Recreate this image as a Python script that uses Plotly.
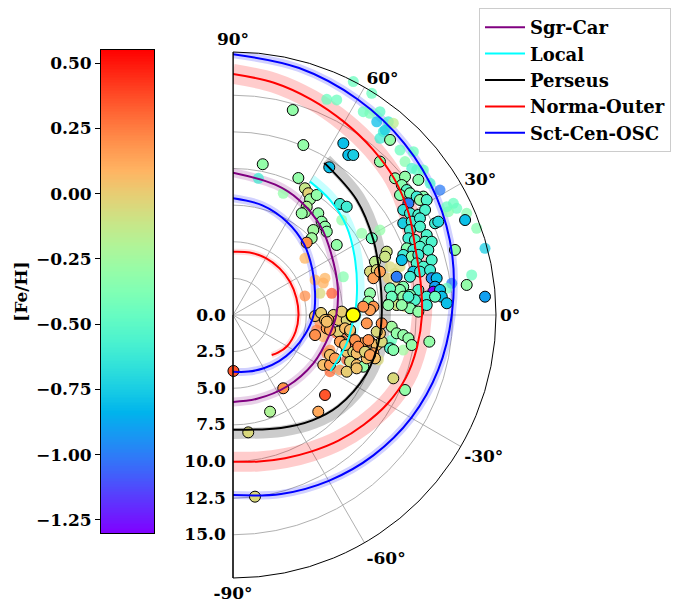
import numpy as np
import plotly.graph_objects as go

# ---------------- data (galactocentric X, Y in kpc; [Fe/H]) ----------------
EDGE_X = [4.08, 4.80, 2.03, 4.46, 4.91, 5.14, 5.26, 5.03, 4.91, 5.82, 6.05, 6.28, 5.48, 6.40, 5.37, 5.03, 7.08, 5.71, 4.69,
          7.53, 7.87, 8.21, 6.57, 7.30, 7.76, 9.47, 9.69, 10.49, 10.38, 9.35, 9.81, 9.58, 10.03, 9.35, 9.24, 10.67,
          9.58, 9.35, 8.89, 11.17,
          10.72, 10.03, 11.06, 11.74, 12.65, 11.52, 11.86, 11.40, 12.08, 12.99, 12.54, 12.76, 13.22, 11.97, 11.62,
          12.08, 12.65, 13.11, 11.62, 12.20, 12.76, 13.79, 14.01, 12.76, 12.08, 13.22, 11.97, 12.42, 13.11, 13.56,
          11.86, 12.31, 12.76, 13.33, 11.62, 12.20, 12.65, 11.52, 13.56, 12.54, 12.99, 12.31, 12.76, 13.45, 12.08,
          13.56, 13.90, 11.17, 11.62, 11.40, 12.65, 13.79, 13.67, 14.13, 14.25, 14.59, 13.22, 13.79, 12.08, 11.62,
          12.42, 12.08, 12.65, 10.72, 10.83, 15.15, 15.95, 17.20, 15.84,
          7.53, 6.85, 7.19, 7.76, 6.51, 6.40, 7.19, 7.65, 7.99, 5.60, 6.62, 9.13, 7.42, 7.76, 8.21, 8.44, 8.79,
          9.35, 9.81, 10.15, 9.58, 10.03, 7.99, 6.16, 6.62, 8.44, 8.89, 7.76, 9.69, 9.13, 10.83, 11.17, 11.62,
          10.72, 10.94, 11.97, 12.20, 13.40, 10.94, 11.74, 3.43, 6.28, 2.53, 5.82, 1.04, 1.50, 0.03, 5.60, 6.01,
          6.28, 7.42, 6.40, 7.99, 8.33, 9.24, 9.81, 10.15, 7.30, 7.65, 6.62, 6.96, 8.55, 9.01, 9.35, 8.44, 10.60,
          11.52, 11.97, 13.22]
EDGE_Y = [13.99, 11.60, 10.29, 9.35, 8.65, 8.31, 7.90, 7.39, 7.01, 6.94, 6.37, 6.03, 5.80, 5.69, 5.24, 4.94, 4.78, 8.19, 6.94,
          11.72, 10.92, 10.92, 10.08, 7.58, 7.39, 5.24, 3.64, 4.32, 3.98, 2.96, 3.07, 2.51, 2.96, 1.48, 0.91, 0.80,
          0.57, 0.34, 0.57, 0.68,
          11.95, 10.47, 9.33, 9.44, 9.22, 8.87, 8.53, 8.19, 8.31, 8.08, 8.08, 7.85, 7.85, 7.62, 7.17,
          6.94, 6.83, 7.17, 6.26, 6.37, 6.60, 6.26, 6.37, 6.03, 5.80, 5.46, 5.24, 5.12, 5.00, 5.00,
          4.55, 4.44, 4.66, 4.44, 4.10, 3.98, 4.10, 3.75, 3.75, 3.53, 3.30, 2.96, 2.96, 3.07, 2.61,
          2.51, 2.51, 2.61, 1.93, 1.71, 1.71, 1.93, 1.59, 1.71, 1.25, 0.80, 1.25, 1.25, 1.37, 1.25,
          1.02, 0.46, 0.23, 1.82, 1.25, 4.44, 2.05, 1.25, 6.48,
          0.12, 0.00, -0.34, -0.34, -0.34, -0.91, -1.14, -0.91, -1.14, -1.37, -1.02, -0.57, -1.82, -2.51, -2.51,
          -2.61, -1.93, -1.82, -2.05, -1.82, -2.61, -1.25, -3.19, -3.41, -3.41, -3.41, -3.53, -3.87, -2.96, -2.96,
          -0.80, -1.25, -1.37, -2.27, -2.39, -1.59, -2.05, -1.82, -4.32, -5.12, -5.00, -5.46, -6.60, -6.60, -8.01,
          -12.40, -3.82, -0.07, 0.14, -0.34, 0.23, -0.46, -1.02, -1.71, -1.71, -1.14, -0.57, -1.82, -2.05, -2.73,
          -2.96, -2.16, -2.51, -2.73, -3.64, 0.68, 0.68, 1.25, 0.68]
EDGE_FEH = [-0.30, -0.30, -0.30, -0.30, -0.12, -0.02, -0.25, -0.20, -0.25, -0.30, -0.30, -0.30, -0.25, -0.30, -0.25, 0.20, -0.30, -0.30, -0.28,
            -0.80, -0.80, -0.75, -0.80, -0.60, -0.60, -0.45, -0.15, -0.10, -0.10, -0.05, -0.05, 0.15, 0.15, -0.30, -0.30, -0.30,
            0.18, 0.15, 0.20, -0.10,
            -0.30, -0.30, -0.30, -0.30, -0.35, -0.35, -0.50, -0.35, -0.40, -0.35, -0.60, -0.30, -0.55, -1.00, -0.65,
            -0.60, -0.55, -0.55, -0.75, -0.60, -0.60, -0.60, -0.70, -0.55, -0.60, -0.55, -0.60, -0.55, -0.50, -0.55,
            -0.35, -0.60, -0.55, -0.55, -0.60, -0.35, -0.60, -0.80, -0.55, -0.55, -0.55, -0.75, -0.60, -0.60, -0.60,
            -0.95, -0.80, -1.00, -0.35, -0.35, -0.55, -0.90, -1.30, -0.80, -0.80, -0.80, -0.60, -0.45, -0.35, -0.30,
            -0.55, -0.35, -0.30, -0.45, -0.45, -0.30, -0.30, -0.90, -0.80,
            -0.03, 0.00, 0.02, -0.05, 0.15, 0.15, -0.02, 0.05, -0.05, 0.20, 0.15, 0.18, -0.03, 0.02, -0.05,
            0.05, 0.15, 0.15, 0.05, -0.05, 0.15, 0.05, -0.05, 0.05, 0.15, 0.05, -0.30, 0.00, 0.05, 0.05,
            -0.25, -0.30, -0.30, -0.55, -0.35, -0.30, -0.30, -0.30, -0.05, -0.30, 0.20, 0.35, -0.20, 0.12, -0.05,
            -0.05, 0.35, 0.05, 0.00, 0.05, 0.00, 0.05, 0.05, 0.18, 0.20, -0.05, 0.20, 0.15, 0.05, 0.05,
            0.15, 0.20, -0.03, 0.15, 0.03, -0.30, -0.30, -0.55, -0.60]

FADE_X = [8.21, 9.35, 6.40, 7.08, 8.89, 9.35, 9.81, 10.26, 10.03, 9.47, 10.03, 10.60, 10.94, 10.38, 11.40, 11.74,
          12.31, 12.20, 12.54, 14.13, 15.04, 15.27, 15.95, 16.63, 17.20, 16.29, 14.93, 14.70, 14.59, 14.59, 10.72,
          11.06, 10.60, 11.17, 11.74, 11.40, 11.17, 11.62, 8.79, 10.03, 7.53, 1.73, 3.43, 7.42, 4.91, 5.60, 6.28,
          6.16, 4.91, 5.94, 6.74, 5.94, 5.71, 6.16, 7.08, 7.65, 8.10, 6.62, 7.76, 6.40, 6.62, 7.30, 10.83, 11.62,
          9.92, 10.72, 12.99, 13.45]
FADE_Y = [15.93, 15.36, 14.72, 14.68, 13.88, 13.77, 13.19, 12.51, 12.06, 15.13, 13.88, 13.19, 13.09, 12.63, 11.26,
          10.47, 11.15, 10.01, 9.90, 8.53, 7.62, 7.28, 6.94, 5.92, 4.55, 2.73, 2.16, 7.05, 7.39, 1.82, 3.30, 2.85,
          2.51, 0.80, 0.57, 3.30, 1.93, 1.48, 5.58, 5.80, 2.61, 9.33, 8.31, 6.48, 3.87, 2.39, 2.51, 2.18, 1.30,
          1.48, 1.48, -0.57, -1.02, -1.48, -1.25, -1.37, -1.93, -2.39, -3.07, -2.61, -3.87, -3.75, -1.71, -2.39,
          -3.07, -2.05, 9.90, 8.99]
FADE_FEH = [-0.45, -0.45, -0.45, -0.45, -0.45, -0.40, -0.80, -0.60, -0.60, -0.45, -0.50, -0.60, -0.15, -0.75, -0.45,
            -0.35, -0.45, -0.55, -0.50, -1.00, -0.45, -0.45, -0.35, -0.35, -0.75, -0.45, -1.00, -0.35, -0.45, -0.45,
            -0.05, -0.05, 0.00, -0.05, -0.05, -0.05, -0.05, -0.05, -0.30, -0.30, -0.35, -0.60, -0.30, -0.30, 0.08,
            0.08, 0.08, 0.10, 0.20, -0.05, 0.33, 0.20, 0.25, 0.10, 0.30, 0.30, 0.38, 0.18, 0.35, 0.20, 0.30, 0.20,
            -0.45, -0.25, -0.05, -0.45, -0.45, -0.55]

SUN_R = [8.2]
SUN_THETA = [0.0]

# spiral arms: azimuth (deg) and radius (kpc)
SGR_THETA = [90, 72, 60, 45, 32, 15, 0, -11, -31, -53, -74, -90]
SGR_R = [9.71, 9.35, 9.05, 8.5, 7.9, 7.4, 7.05, 6.74, 6.4, 6.11, 5.95, 5.93]
LOC_THETA = [60, 50, 38, 24, 7, -2, -14, -30]
LOC_R = [10.51, 10.27, 9.83, 9.13, 8.5, 8.22, 8.0, 7.67]
PER_THETA = [59, 43, 28, 15, 0, -11, -24, -41, -53, -67, -90]
PER_R = [12.11, 11.53, 10.86, 10.37, 10.15, 10.1, 9.95, 9.5, 9.0, 8.37, 7.83]
NOR_OUT_THETA = [90, 80, 70, 60, 50, 40, 30, 20, 10, 0, -10, -20, -30, -40, -50, -60, -70, -80, -90]
NOR_OUT_R = [16.45, 16.1, 15.65, 15.2, 14.8, 14.4, 13.85, 13.25, 13.0, 12.9, 12.75, 12.55, 12.15, 11.65, 11.2,
             10.75, 10.4, 10.15, 10.01]
NOR_IN_THETA = [90, 75, 60, 45, 30, 15, 0, -15, -30, -40, -46]
NOR_IN_R = [4.32, 4.42, 4.49, 4.5, 4.5, 4.48, 4.47, 4.42, 4.26, 4.0, 3.8]
SCT_OUT_THETA = [90, 75, 60, 45, 30, 15, 0, -15, -30, -45, -60, -75, -90]
SCT_OUT_R = [17.8, 17.45, 17.0, 16.55, 16.05, 15.5, 14.93, 14.5, 14.05, 13.55, 13.07, 12.65, 12.29]
SCT_IN_THETA = [90, 75, 60, 45, 30, 15, 0, -15, -30, -45, -60, -75, -90]
SCT_IN_R = [7.97, 7.75, 7.35, 6.85, 6.25, 5.8, 5.5, 5.1, 4.75, 4.45, 4.2, 4.0, 3.87]

FEH_MIN, FEH_MAX = -1.30, 0.55
CB_TICKS = [-1.25, -1.0, -0.75, -0.5, -0.25, 0.0, 0.25, 0.5]
R_TICKS = [0, 2.5, 5, 7.5, 10, 12.5, 15]
T_TICKS = [-90, -60, -30, 0, 30, 60, 90]
RMAX = 17.95

# ---------------- styling helpers ----------------
def rainbow(n=21):
    scale = []
    for x in np.linspace(0, 1, n):
        r = min(1.0, abs(2 * x - 0.5))
        g = np.sin(np.pi * x)
        b = np.cos(np.pi * x / 2)
        scale.append([float(x), f"rgb({int(round(r*255))},{int(round(g*255))},{int(round(b*255))})"])
    return scale

RAINBOW = rainbow()
FONT = dict(family="DejaVu Serif", size=17, color="black", weight="bold")
LEG_FONT = dict(family="DejaVu Serif", size=18, color="black", weight="bold")

def to_polar(xs, ys):
    xs = np.asarray(xs); ys = np.asarray(ys)
    return np.hypot(xs, ys), np.degrees(np.arctan2(ys, xs))

fig = go.Figure()

# bands (uncertainty widths)
bands = [
    (SGR_THETA, SGR_R, "rgba(128,0,128,0.18)", 0.0, 9),
    (LOC_THETA, LOC_R, "rgba(0,255,255,0.22)", 0.25, 8),
    (PER_THETA, PER_R, "rgba(0,0,0,0.2)", 0.25, 11),
    (NOR_OUT_THETA, NOR_OUT_R, "rgba(255,0,0,0.2)", 0.0, 20),
    (NOR_IN_THETA, NOR_IN_R, "rgba(255,0,0,0.12)", 0.0, 6),
    (SCT_OUT_THETA, SCT_OUT_R, "rgba(0,0,255,0.18)", 0.0, 8),
    (SCT_IN_THETA, SCT_IN_R, "rgba(0,0,255,0.18)", 0.0, 8),
]
for th, rr, col, off, w in bands:
    fig.add_trace(go.Scatterpolar(r=np.asarray(rr) + off, theta=th, mode="lines",
                                  line=dict(color=col, width=w, shape="spline"),
                                  showlegend=False, hoverinfo="skip"))

# points
fr, ft = to_polar(FADE_X, FADE_Y)
fig.add_trace(go.Scatterpolar(r=fr, theta=ft, mode="markers", showlegend=False,
                              marker=dict(size=11, color=FADE_FEH, colorscale=RAINBOW, cmin=FEH_MIN,
                                          cmax=FEH_MAX, opacity=0.75, line=dict(width=0))))
er, et = to_polar(EDGE_X, EDGE_Y)
fig.add_trace(go.Scatterpolar(r=er, theta=et, mode="markers", showlegend=False,
                              marker=dict(size=11, color=EDGE_FEH, colorscale=RAINBOW, cmin=FEH_MIN,
                                          cmax=FEH_MAX, line=dict(width=1, color="black"))))

# arm lines
arms = [
    ("Sgr-Car", "#800080", [(SGR_THETA, SGR_R)]),
    ("Local", "#00ffff", [(LOC_THETA, LOC_R)]),
    ("Perseus", "black", [(PER_THETA, PER_R)]),
    ("Norma-Outer", "red", [(NOR_OUT_THETA, NOR_OUT_R), (NOR_IN_THETA, NOR_IN_R)]),
    ("Sct-Cen-OSC", "blue", [(SCT_OUT_THETA, SCT_OUT_R), (SCT_IN_THETA, SCT_IN_R)]),
]
for name, col, segs in arms:
    for i, (th, rr) in enumerate(segs):
        fig.add_trace(go.Scatterpolar(r=rr, theta=th, mode="lines", name=name, legendgroup=name,
                                      showlegend=(i == 0), line=dict(color=col, width=2, shape="spline")))

# Sun
fig.add_trace(go.Scatterpolar(r=SUN_R, theta=SUN_THETA, mode="markers", showlegend=False,
                              marker=dict(size=14, color="yellow", line=dict(width=1.5, color="black"))))

# sector edge at +90
fig.add_trace(go.Scatterpolar(r=[RMAX, 0], theta=[90, 90], mode="lines", showlegend=False,
                              line=dict(color="black", width=1), hoverinfo="skip"))

# colorbar drawn as a thin heatmap
cb_vals = np.linspace(FEH_MIN, FEH_MAX, 300)
fig.add_trace(go.Heatmap(z=[[v] for v in cb_vals], x=[0], y=cb_vals, colorscale=RAINBOW,
                         zmin=FEH_MIN, zmax=FEH_MAX, showscale=False, xaxis="x", yaxis="y",
                         hoverinfo="skip"))

fig.update_layout(
    width=675, height=600, margin=dict(l=0, r=0, t=0, b=0),
    paper_bgcolor="white", plot_bgcolor="white", font=FONT,
    polar=dict(
        domain=dict(x=[233/675, 496/675], y=[1-578/600, 1-52/600]),
        sector=[-90, 90], bgcolor="white",
        angularaxis=dict(rotation=0, direction="counterclockwise", tickmode="array", tickvals=T_TICKS,
                         ticktext=[f"{t}°" for t in T_TICKS], showgrid=True, gridcolor="#b0b0b0",
                         gridwidth=1, showline=True, linecolor="black", linewidth=1, ticks="",
                         tickfont=FONT),
        radialaxis=dict(range=[0, RMAX], angle=-90, tickmode="array", tickvals=R_TICKS,
                        ticktext=[f"{t:.1f}" for t in R_TICKS], showgrid=True, gridcolor="#b0b0b0",
                        gridwidth=1, showline=True, linecolor="black", linewidth=1, ticks="",
                        side="clockwise", tickfont=FONT, tickangle=-90),
    ),
    xaxis=dict(domain=[101/675, 154/675], range=[-0.5, 0.5], showticklabels=False, ticks="",
               showgrid=False, zeroline=False, showline=True, mirror=True, linecolor="black", linewidth=1,
               fixedrange=True),
    yaxis=dict(domain=[1-533/600, 1-50/600], range=[FEH_MIN, FEH_MAX], side="left", tickmode="array",
               tickvals=CB_TICKS, ticktext=[f"{v:.2f}".replace("-", "\u2212") for v in CB_TICKS],
               ticks="outside", ticklen=5, tickcolor="black", showgrid=False, zeroline=False,
               showline=True, mirror=True, linecolor="black", linewidth=1, tickfont=FONT,
               title=dict(text="[Fe/H]", font=FONT, standoff=3)),
    legend=dict(x=479/675, y=1-8/600, xanchor="left", yanchor="top", bordercolor="#cccccc",
                borderwidth=1, bgcolor="rgba(255,255,255,0.9)", font=LEG_FONT, tracegroupgap=0,
                itemwidth=40),
)

fig.write_html("out.html")
